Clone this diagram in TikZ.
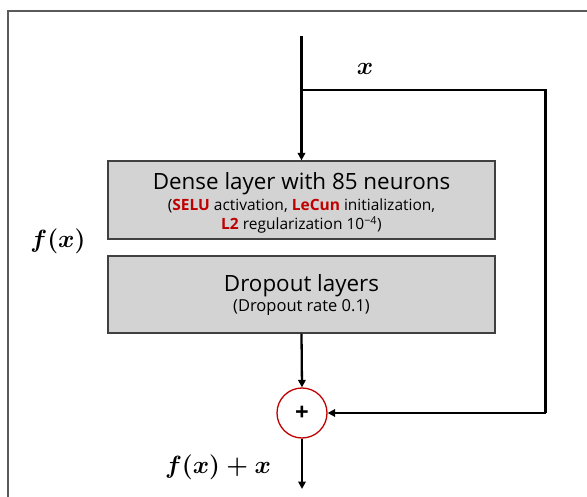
\documentclass[tikz,border=0pt]{standalone}
\usepackage{fontspec}
\usepackage{amsmath}
\setmainfont{Open Sans}
\usetikzlibrary{arrows.meta}
\definecolor{accent}{HTML}{C00000}
\definecolor{boxfill}{HTML}{D3D3D3}
\definecolor{boxedge}{HTML}{404040}
\definecolor{framegray}{HTML}{5A5A5A}
\tikzset{
  layer/.style={draw=boxedge, line width=1.2pt, fill=boxfill, minimum width=387pt, inner sep=0pt},
  titletext/.style={anchor=base, inner sep=0pt, font=\fontsize{22.4}{26}\selectfont},
  subtext/.style={anchor=base, inner sep=0pt, font=\fontsize{15.5}{18}\selectfont},
  flow/.style={line width=2.3pt, -{Triangle[length=7.5pt,width=7.5pt]}},
  plainline/.style={line width=2.3pt},
  sumnode/.style={circle, draw=accent, line width=1.3pt, fill=white, minimum size=50pt, inner sep=0pt},
  mathlabel/.style={font=\fontsize{23}{26}\selectfont\boldmath}
}
\newcommand{\hlr}[1]{\textbf{\textcolor{accent}{#1}}}
\begin{document}
\begin{tikzpicture}[x=1pt,y=-1pt]
\useasboundingbox (0,0) rectangle (587,497);
\draw[framegray, line width=1.3pt] (8,497) -- (8,11) -- (587,11);
\node[layer, minimum height=78pt] (dense) at (301.5,200) {};
\node[titletext] (denseT) at (301.5,190) {Dense layer with 85 neurons};
\node[subtext] (denseA) at (301.5,211) {(\hlr{SELU} activation, \hlr{LeCun} initialization,};
\node[subtext] (denseB) at (301.5,230) {\hlr{L2} regularization 10\textsuperscript{−4})};
\node[layer, minimum height=77pt] (drop) at (301.5,294.5) {};
\node[titletext] (dropT) at (301.5,292) {Dropout layers};
\node[subtext, font=\fontsize{16.5}{19}\selectfont] (dropA) at (301.5,312) {(Dropout rate 0.1)};
\node[sumnode] (sum) at (302,413) {\fontsize{24}{24}\selectfont\textbf{+}};
\coordinate (in) at (301.5,36);
\coordinate (br) at (301.5,90);
\coordinate (rt) at (545.5,90);
\coordinate (rb) at (545.5,413);
\coordinate (out) at (302,489);
\draw[flow] (in) -- (dense.north);
\draw[plainline, line join=miter] (br) -- (rt) -- (rb);
\draw[flow] (rb) -- (sum.east);
\draw[flow] (drop.south) -- (sum.north);
\draw[flow] (sum.south) -- (out);
\node[mathlabel] (xl) at (365,69) {$x$};
\node[mathlabel] (fl) at (58,241) {$f(x)$};
\node[mathlabel] (fxl) at (218,467) {$f(x)+x$};
\end{tikzpicture}
\end{document}
